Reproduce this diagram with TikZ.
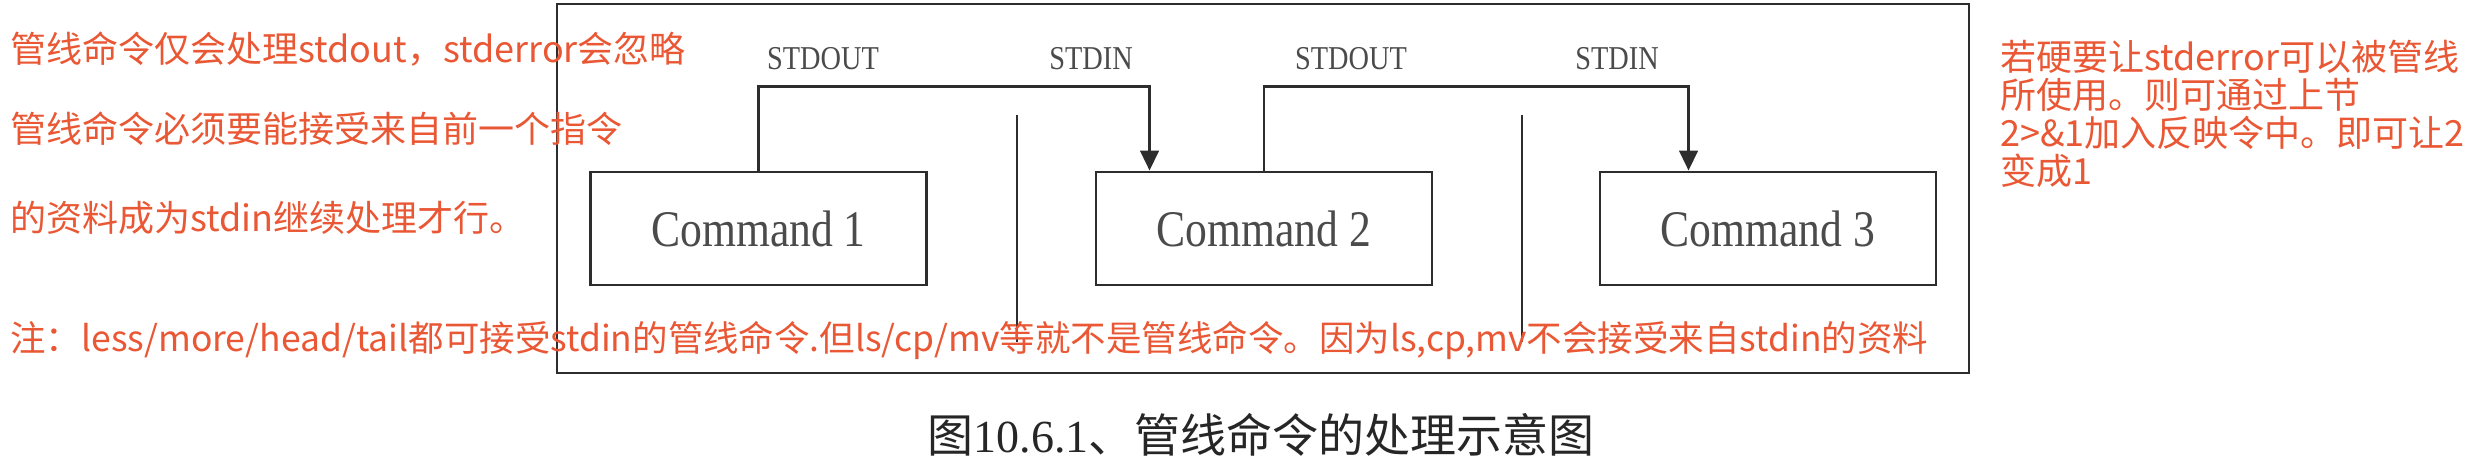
\documentclass[tikz,border=0pt]{standalone}
\usepackage{fontspec}
\setmainfont{Liberation Serif}
\newfontfamily\cjk{Noto Sans CJK SC}
\newfontfamily\condserif[FakeStretch=0.85]{Liberation Serif}
\usetikzlibrary{arrows.meta}

\definecolor{notered}{RGB}{233,87,52}
\definecolor{linegray}{RGB}{45,45,45}
\definecolor{labelgray}{RGB}{75,75,75}

\tikzset{every picture/.style={line width=0.75pt}}
\tikzset{
  cmdbox/.style={draw=linegray, line width=2.2pt, minimum width=252pt, minimum height=84.75pt,
    inner sep=0pt, text=labelgray, font=\condserif\fontsize{38.5}{40}\selectfont},
  streamlbl/.style={inner sep=0pt, text=labelgray, font=\condserif\fontsize{25}{27}\selectfont},
  remark/.style={inner sep=0pt, text=notered, font=\cjk\fontsize{27}{28.5}\selectfont},
  figcaption/.style={inner sep=0pt, text=black!85, font=\fontsize{34.5}{36}\selectfont},
  pipe/.style={draw=linegray, line width=1.9pt, -{Triangle[length=15pt,width=14pt]}},
  pipebar/.style={draw=linegray, line width=1.6pt},
  frame/.style={draw=linegray, line width=2.2pt}
}

\begin{document}
\begin{tikzpicture}[x=0.75pt,y=0.75pt,yscale=-1,xscale=1]
\useasboundingbox (0,0) rectangle (2474,470);

%Shape: Rectangle
\draw[frame] (557,4) rectangle (1969,373);

% Command boxes
\node[cmdbox] (cmdA) at (758.5,228.5) {Command 1};
\node[cmdbox] (cmdB) at (1264,228.5) {Command 2};
\node[cmdbox] (cmdC) at (1768,228.5) {Command 3};

% Text Node
\node[streamlbl] (outA) at (823,59) {STDOUT};
\node[streamlbl] (inA) at (1091,59) {STDIN};
\node[streamlbl] (outB) at (1351,59) {STDOUT};
\node[streamlbl] (inB) at (1617,59) {STDIN};

%Straight Lines
\draw[pipe] (cmdA.north) -- ++(0,-84) -| ([xshift=41.25pt]cmdB.north west);
\draw[pipe] (cmdB.north) -- ++(0,-84) -| ([xshift=67.5pt]cmdC.north west);

%Straight Lines
\coordinate (barAtop) at (1017,115);
\coordinate (barAbot) at (1017,342);
\coordinate (barBtop) at (1522,115);
\coordinate (barBbot) at (1522,342);
\draw[pipebar] (barAtop) -- (barAbot);
\draw[pipebar] (barBtop) -- (barBbot);

% Text Node
\node[remark, anchor=west] (noteOut) at (10,49) {管线命令仅会处理stdout，stderror会忽略};
\node[remark, anchor=west] (noteIn) at (10,129) {管线命令必须要能接受来自前一个指令};
\node[remark, anchor=west] (noteIn2) at (10,218) {的资料成为stdin继续处理才行。};
\node[remark, anchor=west, font=\cjk\fontsize{26.6}{28.5}\selectfont] (noteCmds) at (10,340) {注：less/more/head/tail都可接受stdin的管线命令.但ls/cp/mv等就不是管线命令。因为ls,cp,mv不会接受来自stdin的资料};
\node[remark, anchor=north west, align=left] (noteErr) at (2000,40) {若硬要让stderror可以被管线\\所使用。则可通过上节\\2>\&1加入反映令中。即可让2\\变成1};

% Text Node
\node[figcaption] (caption) at (1261,435) {{\cjk 图}10.6.1{\cjk 、管线命令的处理示意图}};

\end{tikzpicture}
\end{document}
